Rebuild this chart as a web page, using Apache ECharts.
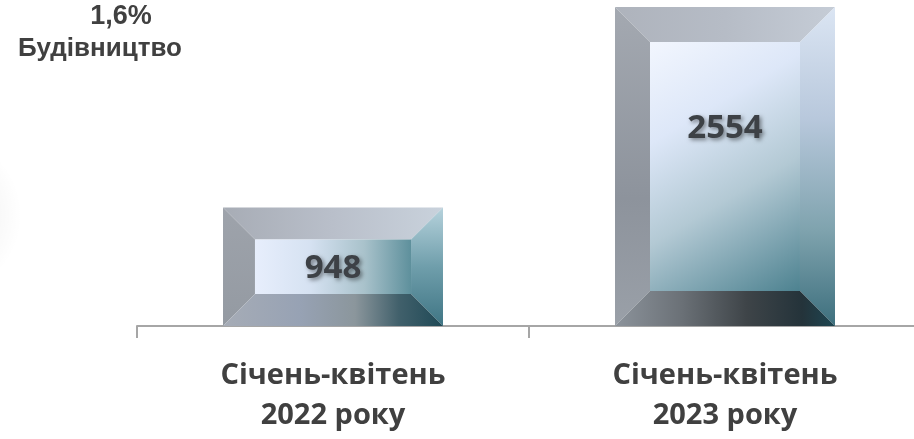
<!DOCTYPE html>
<html>
<head>
<meta charset="utf-8">
<script src="https://cdn.jsdelivr.net/npm/echarts@6/dist/echarts.min.js"></script>
<style>
html,body{margin:0;padding:0;background:#fff;overflow:hidden;width:914px;height:439px;}
#chart{width:921px;height:439px;}
</style>
</head>
<body>
<div id="chart"></div>
<script>
const categories = ['Січень-квітень\n2022 року', 'Січень-квітень\n2023 року'];
const values = [948, 2554];
const titleShare = '1,6%';
const titleSector = 'Будівництво';

function lin(x, y, x2, y2, stops) {
  return { type: 'linear', x: x, y: y, x2: x2, y2: y2,
    colorStops: stops.map(s => ({ offset: s[0], color: s[1] })) };
}

const palettes = [
  {
    top: lin(0,0,1,0,[[0,'#a7acb5'],[0.5,'#b9bfca'],[1,'#c9d2dc']]),
    left: lin(0,0,0,1,[[0,'#9ea3ab'],[1,'#949aa2']]),
    right: lin(0,0,0,1,[[0,'#b6d2dc'],[0.5,'#6f9eab'],[1,'#3f7584']]),
    bottom: lin(0,0,1,0,[[0,'#a6acb6'],[0.35,'#97a2b4'],[0.6,'#8b969c'],[0.8,'#41606b'],[1,'#1f4956']]),
    inner: lin(0,0,1,0,[[0,'#e7eefc'],[0.35,'#d6e2f2'],[0.7,'#a9c2cb'],[1,'#5e909c']])
  },
  {
    top: lin(0,0,1,0,[[0,'#aeb3bc'],[0.5,'#b6bcc6'],[1,'#c5ccd6']]),
    left: lin(0,0,0,1,[[0,'#a4a9b1'],[0.6,'#8d939c'],[1,'#9aa0a8']]),
    right: lin(0,0,0,1,[[0,'#dbe5f3'],[0.35,'#b8c8dc'],[0.7,'#7fa3ae'],[1,'#3d6f7d']]),
    bottom: lin(0,0,1,0,[[0,'#8c939b'],[0.3,'#6b7177'],[0.6,'#3e4448'],[0.85,'#24333a'],[1,'#1d4652']]),
    inner: lin(0,0,1,1,[[0,'#f2f6fe'],[0.3,'#dde7f8'],[0.6,'#b3c9d4'],[1,'#4d8290']])
  }
];

const chart = echarts.init(document.getElementById('chart'), null, { renderer: 'canvas' });

const titleStyle = { fontFamily: 'Liberation Sans', fontWeight: 'bold', color: '#404040' };

const option = {
  backgroundColor: '#ffffff',
  animation: false,
  title: [{
    text: titleShare,
    left: 121,
    top: 2,
    padding: 0,
    textAlign: 'center',
    textStyle: Object.assign({ fontSize: 27, lineHeight: 30 }, titleStyle)
  }, {
    text: titleSector,
    left: 100,
    top: 34,
    padding: 0,
    textAlign: 'center',
    textStyle: Object.assign({ fontSize: 26, lineHeight: 30 }, titleStyle)
  }],
  graphic: [{
    type: 'ellipse',
    silent: true,
    shape: { cx: -60, cy: 215, rx: 82, ry: 90 },
    style: {
      fill: { type: 'radial', x: 0.5, y: 0.5, r: 0.5,
        colorStops: [{ offset: 0, color: 'rgba(0,0,0,0.05)' }, { offset: 0.6, color: 'rgba(0,0,0,0.035)' }, { offset: 1, color: 'rgba(0,0,0,0)' }] }
    },
    z: -10
  }],
  grid: { left: 137, top: 0, right: 0, bottom: 113, containLabel: false },
  xAxis: {
    type: 'category',
    data: categories,
    axisLine: { show: true, lineStyle: { color: '#a6a6a6', width: 2 } },
    axisTick: { show: true, alignWithLabel: false, length: 12, lineStyle: { color: '#a6a6a6', width: 2 } },
    axisLabel: {
      margin: 30,
      interval: 0,
      fontFamily: 'Open Sans',
      fontWeight: 'bold',
      fontSize: 29,
      lineHeight: 40,
      color: '#404040'
    }
  },
  yAxis: {
    type: 'value', min: 0, max: 2610, show: false,
    splitLine: { show: false }
  },
  series: [{
    type: 'custom',
    data: values.map((v, i) => [i, v]),
    encode: { x: 0, y: 1 },
    renderItem: function (params, api) {
      const idx = api.value(0);
      const val = api.value(1);
      const p = api.coord([idx, val]);
      const b0 = api.coord([idx, 0]);
      const w = api.size([1, 0])[0] * 0.5612;
      const x0 = p[0] - w / 2, x1 = p[0] + w / 2, y0 = p[1], y1 = b0[1];
      const h = y1 - y0;
      const b = Math.min(35, h * 0.27);
      const pal = palettes[params.dataIndex % palettes.length];
      const cx = p[0];
      const labelY = Math.min((y0 + y1) / 2 + 2, y0 + 122);
      return {
        type: 'group',
        children: [
          { type: 'polygon', shape: { points: [[x0,y0],[x1,y0],[x1-b,y0+b],[x0+b,y0+b]] }, style: { fill: pal.top } },
          { type: 'polygon', shape: { points: [[x0,y0],[x0+b,y0+b],[x0+b,y1-b],[x0,y1]] }, style: { fill: pal.left } },
          { type: 'polygon', shape: { points: [[x1,y0],[x1,y1],[x1-b,y1-b],[x1-b,y0+b]] }, style: { fill: pal.right } },
          { type: 'polygon', shape: { points: [[x0,y1],[x0+b,y1-b],[x1-b,y1-b],[x1,y1]] }, style: { fill: pal.bottom } },
          { type: 'rect', shape: { x: x0 + b, y: y0 + b, width: w - 2 * b, height: h - 2 * b }, style: { fill: pal.inner } },
          { type: 'text', z2: 10, style: {
              text: String(val), x: cx, y: labelY, align: 'center', verticalAlign: 'middle',
              fontFamily: 'Open Sans', fontWeight: 'bold', fontSize: 33, fill: '#3d4146',
              textShadowColor: 'rgba(0,0,0,0.45)', textShadowBlur: 4, textShadowOffsetX: 2, textShadowOffsetY: 2
          } }
        ]
      };
    }
  }]
};
chart.setOption(option);
</script>
</body>
</html>
